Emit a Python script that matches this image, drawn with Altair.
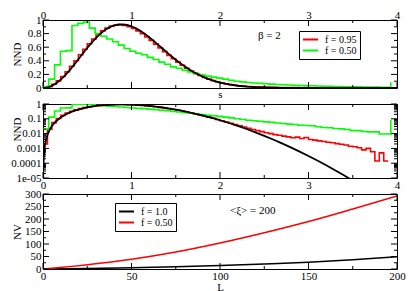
import altair as alt
import pandas as pd

FONT = "Liberation Serif"

# ---------------- data ----------------
# Theoretical beta=2 curve (black), NND vs s
gue_s = [0, 0.0015, 0.003, 0.005, 0.01, 0.02, 0.03, 0.05, 0.075,
         0.1, 0.15, 0.2, 0.25, 0.3, 0.35, 0.4, 0.45, 0.5, 0.55,
         0.6, 0.65, 0.7, 0.75, 0.8, 0.85, 0.9, 0.95, 1.0, 1.05,
         1.1, 1.15, 1.2, 1.25, 1.3, 1.35, 1.4, 1.45, 1.5, 1.55,
         1.6, 1.65, 1.7, 1.75, 1.8, 1.85, 1.9, 1.95, 2.0,
         2.1, 2.2, 2.3, 2.4, 2.5, 2.6, 2.7, 2.8, 2.9, 3.0,
         3.1, 3.2, 3.3, 3.4, 3.5, 3.6, 3.8, 4.0]
gue_v = [0, 7.3e-6, 2.9e-5, 8.1e-5, 3.2e-4, 1.3e-3, 2.9e-3, 8.1e-3, 0.0181,
         0.032, 0.0709, 0.1233, 0.1871, 0.2602, 0.3398, 0.4232, 0.5074, 0.5896, 0.6672,
         0.7381, 0.800, 0.8514, 0.8911, 0.9187, 0.9337, 0.9364, 0.9274, 0.9076, 0.8781,
         0.8405, 0.7961, 0.7465, 0.6929, 0.6372, 0.5804, 0.5240, 0.4689, 0.4158, 0.3656,
         0.3189, 0.2757, 0.2364, 0.2012, 0.1698, 0.1423, 0.1181, 0.0973, 0.0797,
         0.0521, 0.0331, 0.0204, 0.0122, 0.0071, 0.0040, 0.0022, 0.00118, 0.00061, 0.00031,
         0.000151, 0.0000723, 0.0000336, 0.0000152, 0.0000067, 0.0000029, 0.0000005, 0.0000001]

# Histogram f = 0.95 (red), bin width 0.05 starting at s = 0
red_bin = 0.05
red_v = [0.002, 0.02, 0.055, 0.105, 0.17, 0.24, 0.32, 0.40, 0.49, 0.57,
         0.65, 0.72, 0.79, 0.84, 0.88, 0.91, 0.925, 0.93, 0.92, 0.90,
         0.875, 0.84, 0.80, 0.75, 0.70, 0.645, 0.59, 0.535, 0.48, 0.43,
         0.38, 0.335, 0.29, 0.25, 0.215, 0.185, 0.155, 0.13, 0.108, 0.09,
         0.074, 0.061, 0.05, 0.041, 0.034, 0.028, 0.023, 0.019, 0.016, 0.0135,
         0.0115, 0.010, 0.0085, 0.0078, 0.0068, 0.0060, 0.0052, 0.0058, 0.0047, 0.0055,
         0.0040, 0.0036, 0.0032, 0.0029, 0.0026, 0.0024, 0.0021, 0.0019, 0.0017, 0.0014,
         0.0013, 0.0011, 0.0008, 0.0010, 0.0006, 0.00014, 0.0005, 0.00014]

# Histogram f = 0.50 (green), bin width 0.0655 starting at s = 0, last spike value
green_bin = 0.0655
green_v = [0.02, 0.13, 0.34, 0.54, 0.55, 0.92, 0.95, 0.97, 0.88, 0.80,
           0.76, 0.72, 0.68, 0.63, 0.58, 0.54, 0.51, 0.49, 0.45, 0.42,
           0.38, 0.35, 0.31, 0.29, 0.26, 0.235, 0.21, 0.19, 0.175, 0.16,
           0.145, 0.13, 0.115, 0.10, 0.09, 0.08, 0.074, 0.068, 0.062, 0.057,
           0.052, 0.048, 0.044, 0.041, 0.037, 0.035, 0.034, 0.029, 0.026, 0.025,
           0.022, 0.021, 0.019, 0.016, 0.016, 0.014, 0.013, 0.013, 0.0095, 0.0095]
green_last = 0.085

# NV vs L
L_vals = [0, 25, 50, 75, 100, 125, 150, 175, 200]
nv_f10 = [0, 2, 5, 9, 14, 20, 27, 37, 49]
nv_f05 = [0, 17, 39, 68, 104, 145, 190, 240, 292]

# axis ticks
s_major = [0, 1, 2, 3, 4]
s_minor = [0.5, 1.5, 2.5, 3.5]
lin_major = [0, 0.2, 0.4, 0.6, 0.8, 1.0]
lin_minor = [0.1, 0.3, 0.5, 0.7, 0.9]
log_major = [1e-5, 1e-4, 1e-3, 1e-2, 1e-1, 1]
log_minor = [m * d for d in [1e-5, 1e-4, 1e-3, 1e-2, 1e-1] for m in range(2, 10)]
L_major = [0, 50, 100, 150, 200]
L_minor = [25, 75, 125, 175]
nv_major = [0, 50, 100, 150, 200, 250, 300]
nv_minor = [25, 75, 125, 175, 225, 275]

# ---------------- tables ----------------
rows = []
n = 0
for i, v in enumerate(red_v):
    rows.append({"s": round(i * red_bin, 4), "v": v, "f": "f = 0.95", "i": n}); n += 1
rows.append({"s": round(len(red_v) * red_bin, 4), "v": red_v[-1], "f": "f = 0.95", "i": n}); n += 1
for i, v in enumerate(green_v):
    rows.append({"s": round(i * green_bin, 4), "v": v, "f": "f = 0.50", "i": n}); n += 1
end_g = round(len(green_v) * green_bin, 4)
rows.append({"s": end_g, "v": green_v[-1], "f": "f = 0.50", "i": n}); n += 1
rows.append({"s": end_g, "v": green_last, "f": "f = 0.50", "i": n}); n += 1
hist = pd.DataFrame(rows)
gue = pd.DataFrame({"s": gue_s, "v": gue_v})
nv = pd.DataFrame({"L": L_vals * 2, "nv": nv_f10 + nv_f05,
                   "f": ["f = 1.0"] * len(L_vals) + ["f = 0.50"] * len(L_vals)})

W = 354
H1, H2, H3 = 68, 74, 75
GAP = 16
TMAJ, TMIN = 6, 3

xs = alt.Scale(domain=[0, 4], nice=False, zero=False)
ylin = alt.Scale(domain=[0, 1], nice=False, zero=False)
ylog = alt.Scale(type="log", domain=[1e-5, 1], nice=False)
xL = alt.Scale(domain=[0, 200], nice=False, zero=False)
yN = alt.Scale(domain=[0, 300], nice=False, zero=False)


def tick_layers(xfield_scale, xmaj, xmin, yscale, ymaj, ymin, H):
    out = []
    for vals, ln in ((xmaj, TMAJ), (xmin, TMIN)):
        b = alt.Chart(pd.DataFrame({"t": vals})).mark_rule(color="black", strokeWidth=1)
        out.append(b.encode(x=alt.X("t:Q", scale=xfield_scale, axis=None),
                            y=alt.value(H), y2=alt.value(H - ln)))
        out.append(b.encode(x=alt.X("t:Q", scale=xfield_scale, axis=None),
                            y=alt.value(0), y2=alt.value(ln)))
    for vals, ln in ((ymaj, TMAJ), (ymin, TMIN)):
        b = alt.Chart(pd.DataFrame({"t": vals})).mark_rule(color="black", strokeWidth=1)
        out.append(b.encode(y=alt.Y("t:Q", scale=yscale, axis=None),
                            x=alt.value(0), x2=alt.value(ln)))
        out.append(b.encode(y=alt.Y("t:Q", scale=yscale, axis=None),
                            x=alt.value(W), x2=alt.value(W - ln)))
    return out


col_top = alt.Scale(domain=["f = 0.95", "f = 0.50"], range=["#ff0000", "#00ff00"])
col_bot = alt.Scale(domain=["f = 1.0", "f = 0.50"], range=["#000000", "#ff0000"])


def leg(x, y):
    return alt.Legend(orient="none", legendX=x, legendY=y, title=None,
                      symbolType="stroke", symbolStrokeWidth=2, symbolSize=225,
                      strokeColor="black", fillColor="white", padding=3,
                      labelFont=FONT, labelFontSize=10, rowPadding=0, cornerRadius=0,
                      labelOffset=6, clipHeight=11)


def yaxis_kw(title_y=None):
    kw = dict(labelFlush=False, labelPadding=2, titleX=-26, titleAngle=270,
              titleBaseline="middle")
    if title_y is not None:
        kw["titleY"] = title_y
    return kw


# ---- top panel ----
top_hist = alt.Chart(hist).mark_line(interpolate="step-after", strokeWidth=1.6, clip=True).encode(
    x=alt.X("s:Q", scale=xs, axis=alt.Axis(orient="top", values=s_major, format="d",
                                            title=None, labelFlush=False, labelPadding=0)),
    y=alt.Y("v:Q", scale=ylin, axis=alt.Axis(values=lin_major, format="~g", title="NND",
                                              **yaxis_kw())),
    color=alt.Color("f:N", scale=col_top, legend=leg(256, 11)),
    order="i:Q",
)
top_gue = alt.Chart(gue).mark_line(color="black", strokeWidth=1.8, clip=True).encode(
    x=alt.X("s:Q", scale=xs, axis=alt.Axis(orient="bottom", labels=False, title="s",
                                            titlePadding=0)),
    y=alt.Y("v:Q", scale=ylin, axis=None),
)
beta = alt.Chart(pd.DataFrame({"t": ["β = 2"]})).mark_text(
    font=FONT, fontSize=11, align="left", baseline="middle").encode(
    x=alt.value(215), y=alt.value(16), text="t:N")
top = alt.layer(top_hist, top_gue, beta,
                *tick_layers(xs, s_major, s_minor, ylin, lin_major, lin_minor, H1)
                ).resolve_axis(x="independent", y="independent").properties(width=W, height=H1)

# ---- middle panel (log) ----
mid_hist = alt.Chart(hist).mark_line(interpolate="step-after", strokeWidth=1.6, clip=True).encode(
    x=alt.X("s:Q", scale=xs, axis=alt.Axis(values=s_major, format="d", title=None,
                                            labelFlush=False, labelPadding=1)),
    y=alt.Y("v:Q", scale=ylog, axis=alt.Axis(
        values=log_major, title="NND",
        labelExpr="datum.value < 0.00002 ? '1e-05' : format(datum.value, '~g')",
        **yaxis_kw(25))),
    color=alt.Color("f:N", scale=col_top, legend=None),
    order="i:Q",
)
mid_gue = alt.Chart(gue).transform_filter("datum.v > 0").mark_line(
    color="black", strokeWidth=1.8, clip=True).encode(
    x=alt.X("s:Q", scale=xs, axis=None),
    y=alt.Y("v:Q", scale=ylog, axis=None),
)
mid = alt.layer(mid_hist, mid_gue,
                *tick_layers(xs, s_major, s_minor, ylog, log_major, log_minor, H2)
                ).resolve_axis(x="independent", y="independent").properties(width=W, height=H2)

# ---- bottom panel ----
bot_lines = alt.Chart(nv).mark_line(interpolate="monotone", strokeWidth=1.6, clip=True).encode(
    x=alt.X("L:Q", scale=xL, axis=alt.Axis(values=L_major, format="d", title="L",
                                            labelFlush=False, labelPadding=1, titlePadding=0)),
    y=alt.Y("nv:Q", scale=yN, axis=alt.Axis(values=nv_major, format="d", title="NV",
                                             **yaxis_kw())),
    color=alt.Color("f:N", scale=col_bot, legend=leg(72, 9)),
)
xi = alt.Chart(pd.DataFrame({"t": ["<ξ> = 200"]})).mark_text(
    font=FONT, fontSize=11, align="left", baseline="middle").encode(
    x=alt.value(187), y=alt.value(17), text="t:N")
bot = alt.layer(bot_lines, xi,
                *tick_layers(xL, L_major, L_minor, yN, nv_major, nv_minor, H3)
                ).resolve_axis(x="independent", y="independent").properties(width=W, height=H3)

chart = alt.vconcat(top, mid, bot, spacing=GAP, bounds="flush").resolve_scale(
    color="independent").properties(
    padding={"left": 2, "top": 0, "right": 0, "bottom": 0}
).configure_view(stroke="black", strokeWidth=1).configure_axis(
    labelFont=FONT, titleFont=FONT, labelFontSize=11, titleFontSize=11,
    titleFontWeight="normal", grid=False, domain=False, ticks=False,
    labelColor="black", titleColor="black"
).configure_legend(labelFont=FONT, labelFontSize=10)

chart.save("out.html", embed_options={"renderer": "svg", "actions": False})
